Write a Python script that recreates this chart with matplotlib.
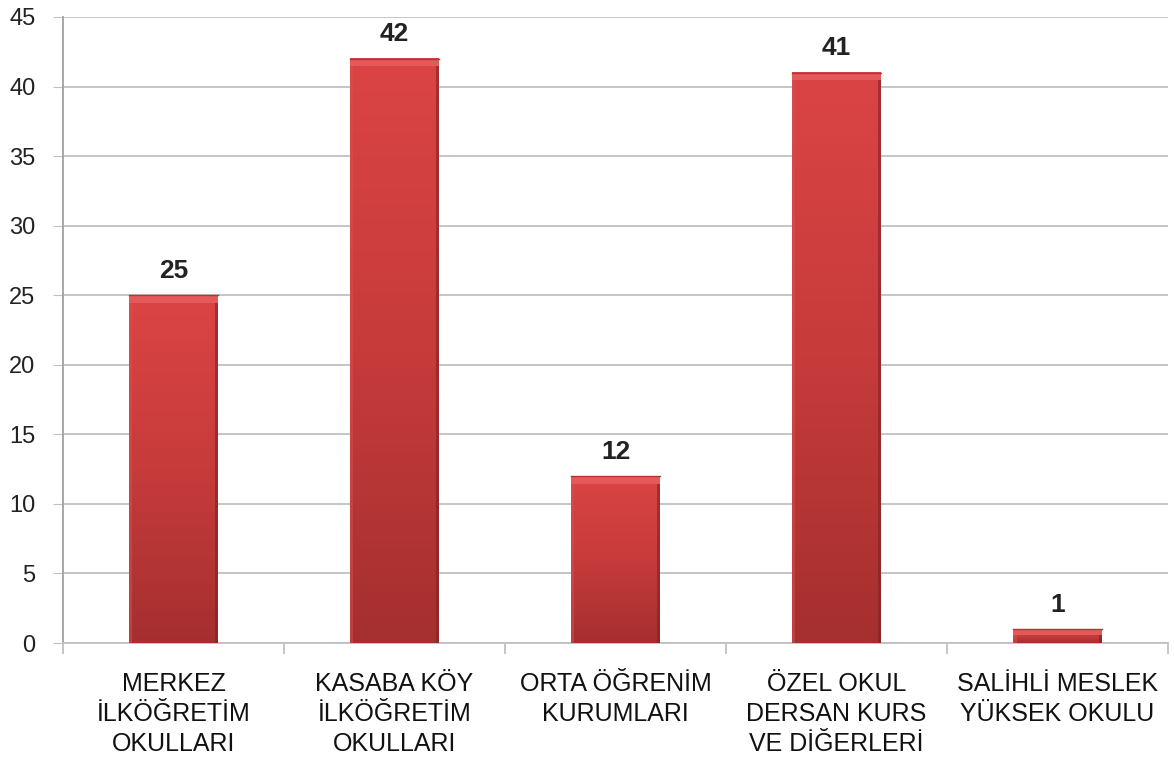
import numpy as np
import matplotlib.pyplot as plt
from matplotlib.colors import LinearSegmentedColormap

categories = [
    "MERKEZ\nİLKÖĞRETİM\nOKULLARI",
    "KASABA KÖY\nİLKÖĞRETİM\nOKULLARI",
    "ORTA ÖĞRENİM\nKURUMLARI",
    "ÖZEL OKUL\nDERSAN KURS\nVE DİĞERLERİ",
    "SALİHLİ MESLEK\nYÜKSEK OKULU",
]
values = [25, 42, 12, 41, 1]
y_ticks = [0, 5, 10, 15, 20, 25, 30, 35, 40, 45]

plt.rcParams['font.family'] = ['Liberation Sans', 'DejaVu Sans']

GRID = "#c0c0c0"
fig = plt.figure(figsize=(11.74, 7.58), dpi=100)
ax = fig.add_axes([0.0537, 0.1517, 0.9413, 0.8259])

x = np.arange(len(values))
bars = ax.bar(x, values, width=0.40, color="#c23a3a", zorder=3)

# gradient fill + bevel to mimic the 3D-ish bars
cmap = LinearSegmentedColormap.from_list("bar", ["#a52f2f", "#c73b3b", "#db4444"])
grad = np.linspace(0, 1, 256).reshape(-1, 1)
for b in bars:
    x0, w, h = b.get_x(), b.get_width(), b.get_height()
    ax.imshow(grad, extent=(x0, x0 + w, 0, h), origin="lower", cmap=cmap,
              aspect="auto", zorder=4)
    top = min(0.55, h * 0.45)
    ax.fill_between([x0, x0 + w], h - top, h, color="#e45a5a", zorder=5, lw=0)
    ax.plot([x0, x0 + w], [h, h], color="#b53434", lw=1, zorder=6)
    side = w * 0.035
    ax.fill_between([x0 + w - side, x0 + w], 0, h - top, color="#7e2222",
                    alpha=0.6, zorder=5, lw=0)
    ax.fill_between([x0, x0 + side], 0, h - top, color="#d85050",
                    alpha=0.5, zorder=5, lw=0)
    ax.annotate(str(int(h)), (x0 + w / 2, h), xytext=(0, 9),
                textcoords="offset points", ha="center", va="bottom",
                fontsize=19, fontweight="bold", color="#222222", zorder=7)

ax.set_xlim(-0.5, len(values) - 0.5)
ax.set_ylim(0, 45)
ax.set_yticks(y_ticks)
ax.tick_params(axis="y", labelsize=17, length=7, color=GRID, pad=13,
               labelcolor="#222222")
ax.yaxis.grid(True, color=GRID, lw=1.3, zorder=0)

ax.set_xticks(x)
ax.set_xticklabels(categories, fontsize=18, linespacing=1.3)
ax.tick_params(axis="x", length=0, pad=21, labelcolor="#111111")
ax.set_xticks(np.arange(len(values) + 1) - 0.5, minor=True)
ax.tick_params(axis="x", which="minor", length=8, color=GRID, width=1.3)

for s in ["top", "right"]:
    ax.spines[s].set_visible(False)
ax.spines["left"].set_color("#a0a0a0")
ax.spines["left"].set_linewidth(1.3)
ax.spines["bottom"].set_color(GRID)
ax.spines["bottom"].set_linewidth(1.3)

fig.savefig("out.png", dpi=100)
